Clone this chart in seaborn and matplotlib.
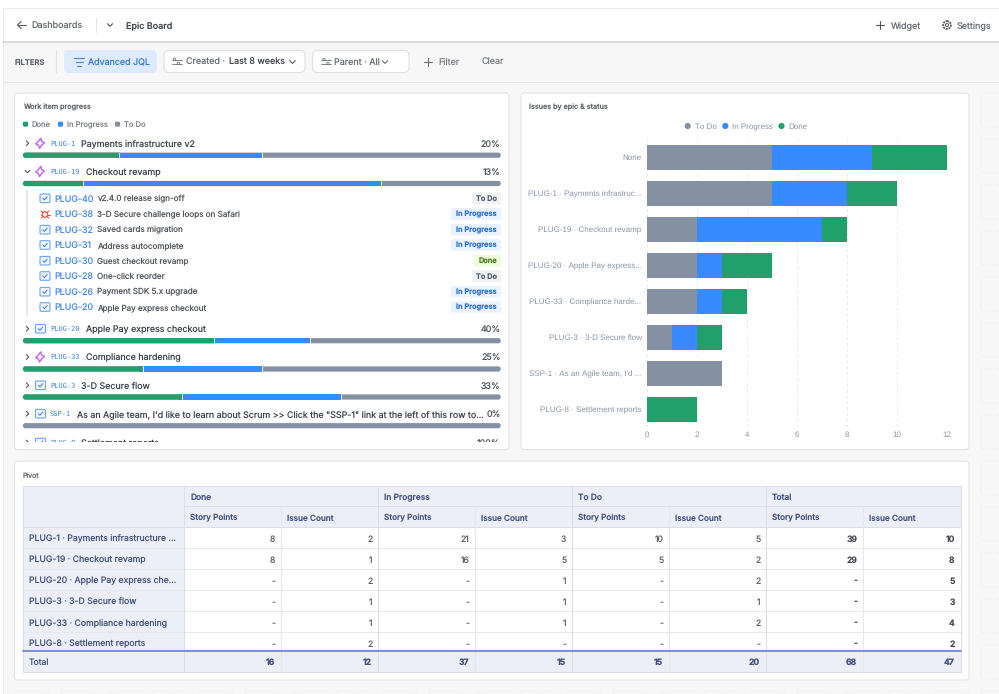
import matplotlib
matplotlib.use("Agg")
import matplotlib.pyplot as plt
from matplotlib.patches import FancyBboxPatch, Rectangle, Circle, Polygon
from matplotlib.transforms import Bbox
import numpy as np
import seaborn as sns

# ---- data -----
bar_categories = ["None", "PLUG-1 · Payments infrastruc...", "PLUG-19 · Checkout revamp",
                  "PLUG-20 · Apple Pay express...", "PLUG-33 · Compliance harde...",
                  "PLUG-3 · 3-D Secure flow", "SSP-1 · As an Agile team, I'd ...",
                  "PLUG-8 · Settlement reports"]
bar_todo = [5, 5, 2, 2, 2, 1, 3, 0]
bar_progress = [4, 3, 5, 1, 1, 1, 0, 0]
bar_done = [3, 2, 1, 2, 1, 1, 0, 2]
x_ticks = [0, 2, 4, 6, 8, 10, 12]

epic_keys = ["PLUG-1", "PLUG-19", "PLUG-20", "PLUG-33", "PLUG-3", "SSP-1", "PLUG-8"]
epic_titles = ["Payments infrastructure v2", "Checkout revamp", "Apple Pay express checkout",
               "Compliance hardening", "3-D Secure flow",
               "As an Agile team, I'd like to learn about Scrum >> Click the \"SSP-1\" link at the left of this row to...",
               "Settlement reports"]
epic_types = ["epic", "epic", "task", "epic", "task", "task", "task"]
epic_pct = ["20%", "13%", "40%", "25%", "33%", "0%", "100%"]
epic_done = [2, 1, 2, 1, 1, 0, 2]
epic_prog = [3, 5, 1, 1, 1, 0, 0]
epic_todo = [5, 2, 2, 2, 1, 3, 0]

child_keys = ["PLUG-40", "PLUG-38", "PLUG-32", "PLUG-31", "PLUG-30", "PLUG-28", "PLUG-26", "PLUG-20"]
child_titles = ["v2.4.0 release sign-off", "3-D Secure challenge loops on Safari", "Saved cards migration",
                "Address autocomplete", "Guest checkout revamp", "One-click reorder",
                "Payment SDK 5.x upgrade", "Apple Pay express checkout"]
child_status = ["To Do", "In Progress", "In Progress", "In Progress", "Done", "To Do", "In Progress", "In Progress"]
child_types = ["task", "bug", "task", "task", "task", "task", "task", "task"]

pivot_groups = ["Done", "In Progress", "To Do", "Total"]
pivot_measures = ["Story Points", "Issue Count"]
pivot_rows = ["PLUG-1 · Payments infrastructure ...", "PLUG-19 · Checkout revamp",
              "PLUG-20 · Apple Pay express che...", "PLUG-3 · 3-D Secure flow",
              "PLUG-33 · Compliance hardening", "PLUG-8 · Settlement reports"]
pivot_values = [["8", "2", "21", "3", "10", "5", "39", "10"],
                ["8", "1", "16", "5", "5", "2", "29", "8"],
                ["-", "2", "-", "1", "-", "2", "-", "5"],
                ["-", "1", "-", "1", "-", "1", "-", "3"],
                ["-", "1", "-", "1", "-", "2", "-", "4"],
                ["-", "2", "-", "-", "-", "-", "-", "2"]]
pivot_total = ["16", "12", "37", "15", "15", "20", "68", "47"]

GREY, BLUE, GREEN = "#8590A2", "#388BFF", "#22A06B"
TXT = "#44546F"
NAVY = "#44507F"
FONT = "Inter"

sns.set_theme(style="white")
plt.rcParams["font.family"] = [FONT, "DejaVu Sans"]
plt.rcParams["text.hinting"] = "no_hinting"
plt.rcParams["text.hinting_factor"] = 1

W, H = 999, 694
fig = plt.figure(figsize=(W / 100, H / 100), dpi=100, facecolor="white")
bg = fig.add_axes([0, 0, 1, 1], zorder=0)
bg.set_xlim(0, W)
bg.set_ylim(H, 0)
bg.axis("off")


def fs(px):
    return px * 0.72


def T(x, y, s, px=8.5, c=TXT, ha="left", w="normal", clip=None, family=None, z=5):
    # y is the optical centre of the capitals; anchor on the baseline so a row stays level
    t = bg.text(x, y + 0.36 * px, s, fontsize=fs(px), color=c, ha=ha, va="baseline", fontweight=w, zorder=z,
                family=family if family else [FONT, "DejaVu Sans"])
    if clip is not None:
        t.set_clip_box(clip)
        t.set_clip_on(True)
    return t


def R(x0, y0, x1, y1, fc="white", ec="none", lw=0.7, r=3, z=1, ls="-"):
    p = FancyBboxPatch((x0, y0), x1 - x0, y1 - y0, boxstyle=f"round,pad=0,rounding_size={r}",
                       fc=fc, ec=ec, lw=lw, zorder=z, ls=ls, mutation_aspect=1)
    bg.add_patch(p)
    return p


def L(xs, ys, c=TXT, lw=0.8, z=4, clip=None, **kw):
    ln, = bg.plot(xs, ys, color=c, lw=lw, zorder=z, solid_capstyle="round", **kw)
    if clip is not None:
        ln.set_clip_box(clip)
    return ln


def chev(x, y, kind="down", c=TXT, s=2.4, clip=None):
    if kind == "down":
        L([x - s, x, x + s], [y - s / 2, y + s / 2, y - s / 2], c, clip=clip)
    else:
        L([x - s / 2, x + s / 2, x - s / 2], [y - s, y, y + s], c, clip=clip)


def plus(x, y, s=4, c="#6B6E76"):
    L([x - s, x + s], [y, y], c)
    L([x, x], [y - s, y + s], c)


def sliders(x, y, c="#6B6E76"):
    L([x - 5, x + 5], [y - 2, y - 2], c, 0.6)
    L([x - 5, x + 5], [y + 2, y + 2], c, 0.6)
    bg.add_patch(Circle((x - 2, y - 2), 1.2, fc="white", ec=c, lw=0.6, zorder=5))
    bg.add_patch(Circle((x + 2, y + 2), 1.2, fc="white", ec=c, lw=0.6, zorder=5))


def icon_task(x, y, s=5, clip=None):
    p = R(x - s, y - s + 0.7, x + s, y + s - 0.7, fc="#F1F6FF", ec="#6AA5F5", lw=0.8, r=1.2, z=4)
    ck = L([x - 2.2, x - 0.6, x + 2.2], [y, y + 1.6, y - 1.6], "#3B78D8", 0.7, z=5)
    if clip is not None:
        p.set_clip_box(clip)
        ck.set_clip_box(clip)


def icon_epic(x, y, c="#C46BF0"):
    pts = [(x + 0.8, y - 5.0), (x + 1.7, y - 1.9), (x + 4.4, y - 0.6), (x + 1.7, y + 1.9),
           (x - 0.4, y + 5.0), (x - 1.7, y + 1.9), (x - 4.3, y + 0.6), (x - 1.7, y - 1.9)]
    bg.add_patch(Polygon(pts, closed=True, fc="white", ec=c, lw=1.1, zorder=4, joinstyle="round"))


def icon_bug(x, y, c="#E5493A"):
    bg.add_patch(Circle((x, y + 0.5), 2.8, fc="#FFECEB", ec=c, lw=0.8, zorder=5))
    L([x - 4.5, x + 4.5], [y + 0.5, y + 0.5], c, 0.7)
    L([x - 4, x + 4], [y - 3.2, y + 4.2], c, 0.7)
    L([x + 4, x - 4], [y - 3.2, y + 4.2], c, 0.7)


# ---- page chrome ----
bg.add_patch(Rectangle((3, 7.5), W, H, fc="#F7F7F8", ec="#ECECEE", lw=0.7, zorder=0))
bg.add_patch(Rectangle((3, 7.5), W, 34, fc="white", ec="#ECECEE", lw=0.7, zorder=0.5))
L([3, W], [42, 42], "#D4D5D8", 1.1, z=1)
L([3, W], [81.5, 81.5], "#E6E7E9", 0.8, z=1)

L([17.5, 26], [25, 25], "#55585F", 0.8)
L([21, 17.5, 21], [21.5, 25, 28.5], "#55585F", 0.8)
T(31.7, 25, "Dashboards", 9.0, "#6B6E76")
L([95.5, 95.5], [17.5, 32], "#E2E3E5", 0.8)
chev(110, 25, "down", "#55585F", 2.6)
T(126.5, 25, "Epic Board", 9.0, "#44474F", w="medium")
plus(880, 25, 4.3, "#55585F")
T(890.5, 25, "Widget", 9.0, "#6B6E76")
bg.add_patch(Circle((947, 25), 3.9, fc="white", ec="#55585F", lw=1.3, ls=(0, (1.1, 0.5)), zorder=4))
bg.add_patch(Circle((947, 25), 1.5, fc="white", ec="#55585F", lw=0.7, zorder=5))
T(957, 25, "Settings", 9.0, "#6B6E76")

T(14.5, 61.8, "FILTERS", 7.6, "#5E6168", w="semibold")
L([55.5, 55.5], [51, 72], "#E0E1E3", 0.8)
R(64, 50, 157, 73, fc="#DEEBFF", r=5, z=2)
L([74, 84], [57.5, 57.5], "#4C82D9", 0.8)
L([75.5, 82.5], [61.5, 61.5], "#4C82D9", 0.8)
L([77, 81], [65.5, 65.5], "#4C82D9", 0.8)
T(88.5, 62, "Advanced JQL", 8.9, "#3D78D8")
R(164, 50.5, 305, 72.5, fc="white", ec="#DFE0E2", lw=0.8, r=5, z=2)
sliders(176.5, 61.5)
T(186, 62, "Created ·", 9.0, "#6B6E76")
T(229, 62, "Last 8 weeks", 9.0, "#44474F")
chev(292.5, 62, "down", "#55585F", 2.8)
R(312.5, 50.5, 409, 72.5, fc="white", ec="#DFE0E2", lw=0.8, r=5, z=2)
sliders(326, 61.5)
T(334, 62, "Parent · All", 9.0, "#6B6E76")
chev(385, 62, "down", "#6B6E76", 2.8)
plus(428, 62, 4.3)
T(438, 62, "Filter", 9.0, "#7D8087")
T(481.5, 62, "Clear", 9.0, "#7D8087")

# placeholder cells
for y0 in [93, 139, 185, 231, 277, 323, 369, 415, 461, 507, 553, 599, 645]:
    R(981, y0, 1015, y0 + 34, fc="none", ec="#ECECEE", lw=0.6, ls=(0, (2, 2)), z=0.6)
for x0 in range(15, 999, 46):
    R(x0, 691, x0 + 35, 720, fc="none", ec="#ECECEE", lw=0.6, ls=(0, (2, 2)), z=0.6)

# cards
R(14.5, 93, 509, 449.5, ec="#E3E4E6", lw=0.8)
R(521, 93, 969, 449.5, ec="#E3E4E6", lw=0.8)
R(14.5, 461, 969, 680, ec="#E3E4E6", lw=0.8)

# ---- work item progress card ----
T(23, 107, "Work item progress", 7.2, "#62656C", w="medium")
for x, c, lbl, tx in [(23, GREEN, "Done", 32), (58, BLUE, "In Progress", 67), (115, GREY, "To Do", 124)]:
    R(x, 121.7, x + 5, 126.7, fc=c, r=1, z=4)
    T(tx, 124.5, lbl, 7.6, "#7D8087")

clip_box = Bbox([[15, H - 441.7], [508, H - 95]])
row_y = [143.3, 171.5, 328.7, 357, 385.3, 413.7, 442.6]
bar_y = [155.2, 183.5, 340.7, 369, 397, 425.7, 454]
kx = 50
BX0, BX1 = 23, 500.7
for i, (k, t, ty, pct) in enumerate(zip(epic_keys, epic_titles, epic_types, epic_pct)):
    y = row_y[i]
    chev(27.5, y, "down" if i == 1 else "right", "#55585F", clip=clip_box)
    if ty == "epic":
        icon_epic(40, y)
    else:
        icon_task(40.5, y, clip=clip_box)
    T(kx, y - 0.5, k, 7.4, "#3F82E6", family="DejaVu Sans Mono", clip=clip_box)
    tx = kx + 4.43 * len(k) + 4.5
    T(tx, y, t, 8.9, "#3F4450", clip=clip_box)
    T(500.7, y, pct, 8.9, "#4F545F", ha="right", clip=clip_box)
    if i < 6:
        tot = epic_done[i] + epic_prog[i] + epic_todo[i]
        span = BX1 - BX0
        a = BX0 + span * epic_done[i] / tot
        b = a + span * epic_prog[i] / tot
        yy = bar_y[i]
        R(BX0, yy - 2.6, BX1, yy + 2.6, fc=GREY, r=2.4, z=3)
        if epic_done[i]:
            R(BX0, yy - 2.6, a + 3, yy + 2.6, fc=GREEN, r=2.4, z=3.1)
            bg.add_patch(Rectangle((a - 3, yy - 2.6), 3.2, 5.2, fc=GREEN, ec="none", zorder=3.15))
        if epic_prog[i]:
            bg.add_patch(Rectangle((a, yy - 2.6), b - a, 5.2, fc=BLUE, ec="none", zorder=3.2))
        if epic_done[i]:
            L([a + 0.2, a + 0.2], [yy - 2.6, yy + 2.6], "white", 0.6, z=3.4)
        if epic_prog[i]:
            L([b, b], [yy - 2.6, yy + 2.6], "white", 0.6, z=3.4)

child_y = [198.3, 214, 229.7, 245, 260.7, 276, 291.7, 307]
badge = {"To Do": (472, "#F0F1F2", "#505F79"), "In Progress": (451, "#E9F2FF", "#2D6FD6"),
         "Done": (474, "#EEFBDA", "#4C7A1E")}
L([26.7, 26.7], [190, 315], "#E6E7E9", 1.4, z=2)
for k, t, st, ty, y in zip(child_keys, child_titles, child_status, child_types, child_y):
    if ty == "bug":
        icon_bug(45, y)
    else:
        icon_task(45, y)
    T(54.7, y, k, 8.9, "#4C8BE8")
    T(97, y, t, 8.1, "#55585F")
    x0, fc, tc = badge[st]
    R(x0, y - 5.8, 501, y + 5.8, fc=fc, r=1.5, z=3)
    T((x0 + 501) / 2, y, st, 7.4, tc, ha="center", w="semibold")

# ---- stacked bars ----
T(529, 107, "Issues by epic & status", 7.2, "#62656C", w="medium")
CHART_FONT = ["Liberation Sans", "DejaVu Sans"]
for cx, c, lbl, tx in [(687.7, GREY, "To Do", 694.7), (725.3, BLUE, "In Progress", 732), (781.5, GREEN, "Done", 788.3)]:
    bg.add_patch(Circle((cx, 126), 3.1, fc=c, ec="none", zorder=4))
    T(tx, 126.3, lbl, 8.0, "#8A93A6", family=CHART_FONT)

ax = fig.add_axes([647 / W, 1 - 427 / H, (947.3 - 647) / W, (427 - 139) / H], zorder=2)
ax.patch.set_alpha(0)
todo = np.array(bar_todo)
prog = np.array(bar_progress)
done = np.array(bar_done)
for vals, left, col in [(todo, np.zeros(8), GREY), (prog, todo, BLUE), (done, todo + prog, GREEN)]:
    sns.barplot(x=vals, y=bar_categories, left=left, color=col, saturation=1, width=25 / 36, ax=ax,
                orient="y", order=bar_categories, linewidth=0)
ax.set_xlim(0, 12)
ax.set_xticks(x_ticks)
ax.set_xlabel("")
ax.set_ylabel("")
sns.despine(ax=ax, left=True, bottom=True, top=True, right=True)
ax.xaxis.grid(True, color="#E8EAEE", lw=0.7, ls=(0, (3, 3)))
ax.yaxis.grid(False)
ax.set_axisbelow(True)
ax.tick_params(axis="y", length=0, pad=3.9, labelsize=fs(8.0), labelcolor="#8A93A6")
ax.tick_params(axis="x", length=0, pad=3.2, labelsize=fs(8.0), labelcolor="#8A93A6")
for lab in ax.get_xticklabels() + ax.get_yticklabels():
    lab.set_family(CHART_FONT)

# ---- pivot ----
T(23, 475, "Pivot", 7.0, "#62656C")
col_x = [23, 184.3, 281.3, 378.3, 475.3, 572.3, 669.3, 766.3, 863.3, 960.7]
row_lines = [485.7, 506.3, 527.3, 548.3, 569.3, 590.3, 611.3, 632.3, 650.7, 672.3]
HDR = "#ECEFF8"
BORD = "#DBDFEB"
CELL = "#E6E8EE"
bg.add_patch(Rectangle((col_x[0], row_lines[0]), col_x[-1] - col_x[0], row_lines[2] - row_lines[0], fc=HDR, ec="none", zorder=2))
bg.add_patch(Rectangle((col_x[0], row_lines[2]), col_x[1] - col_x[0], row_lines[8] - row_lines[2], fc=HDR, ec="none", zorder=2))
bg.add_patch(Rectangle((col_x[0], row_lines[8]), col_x[-1] - col_x[0], row_lines[9] - row_lines[8], fc=HDR, ec="none", zorder=2))
for y in row_lines[3:8]:
    L([col_x[0], col_x[-1]], [y, y], CELL, 0.7, z=3)
for y in [row_lines[0], row_lines[2], row_lines[9]]:
    L([col_x[0], col_x[-1]], [y, y], BORD, 0.8, z=3)
L([col_x[1], col_x[-1]], [row_lines[1]] * 2, BORD, 0.8, z=3)
for j, x in enumerate(col_x):
    major = j in (0, 1, 3, 5, 7, 9)
    L([x, x], [row_lines[0] if major else row_lines[1], row_lines[9]], BORD if major else CELL, 0.8, z=3)
L([col_x[0], col_x[-1]], [row_lines[8]] * 2, "#7B8FD0", 1.4, z=4)
for g, x in zip(pivot_groups, col_x[1:8:2]):
    T(x + 5.7, 496.7, g, 8.4, NAVY, w="medium")
for j in range(8):
    T(col_x[j + 1] + 6, 517.5, pivot_measures[j % 2], 8.2, NAVY, w="medium")
for r, (lbl, vals) in enumerate(zip(pivot_rows, pivot_values)):
    y = 538.5 + 21 * r
    T(29, y, lbl, 8.7, NAVY)
    for j, v in enumerate(vals):
        T(col_x[j + 2] - 6, y, v, 8.6, "#3F4450" if j >= 6 else "#5A5E68", ha="right", w="semibold" if j >= 6 else "normal")
T(29, 662, "Total", 8.6, NAVY)
for j, v in enumerate(pivot_total):
    T(col_x[j + 2] - 6, 662, v, 8.6, NAVY, ha="right", w="bold")

fig.savefig("out.png", dpi=100)
